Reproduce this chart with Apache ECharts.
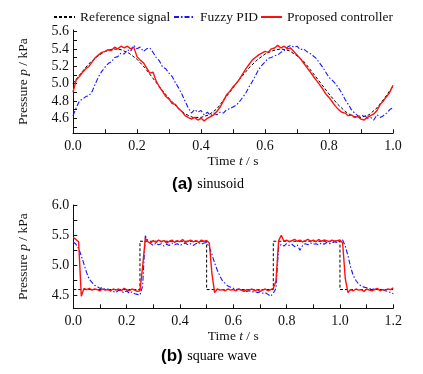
<!DOCTYPE html>
<html><head><meta charset="utf-8">
<script src="https://cdn.jsdelivr.net/npm/echarts@6/dist/echarts.min.js"></script>
<style>html,body{margin:0;padding:0;background:#fff}#c{width:423px;height:374px}</style>
</head><body><div id="c"></div>
<script>
// ---------- names ----------
const seriesNames = ['Reference signal', 'Fuzzy PID', 'Proposed controller'];

// ---------- (a) sinusoid ----------
const sinStep = 0.01;          // sample spacing of the measured curves (s)
const sinRefStep = 0.025;      // sample spacing of the reference curve (s)
const sinRef = [5.00,5.12,5.23,5.31,5.37,5.40,5.39,5.35,5.28,5.18,5.06,4.94,4.83,4.73,4.65,4.61,4.61,4.64,4.71,4.83,
  4.95,5.07,5.18,5.27,5.34,5.38,5.40,5.38,5.32,5.24,5.12,5.00,4.88,4.77,4.68,4.62,4.61,4.64,4.72,4.84,4.97];
const sinFuzzy = [4.63,4.72,4.80,4.82,4.85,4.86,4.91,5.00,5.08,5.14,5.19,5.23,5.25,5.30,5.31,5.35,5.34,5.39,5.37,5.44,
  5.40,5.42,5.37,5.40,5.41,5.36,5.30,5.26,5.19,5.17,5.12,5.08,5.01,4.95,4.88,4.80,4.72,4.66,4.70,4.67,
  4.69,4.64,4.67,4.63,4.66,4.64,4.67,4.66,4.70,4.71,4.73,4.75,4.79,4.84,4.89,4.96,5.02,5.09,5.16,5.21,
  5.25,5.29,5.30,5.32,5.33,5.36,5.38,5.42,5.44,5.42,5.43,5.39,5.40,5.37,5.35,5.32,5.29,5.24,5.19,5.13,
  5.07,5.04,5.00,4.95,4.89,4.82,4.76,4.70,4.66,4.63,4.62,4.64,4.60,4.61,4.58,4.64,4.61,4.63,4.66,4.70,4.72];
const sinProposed = [4.90,5.04,5.08,5.13,5.17,5.20,5.25,5.30,5.33,5.36,5.37,5.39,5.38,5.42,5.40,5.43,5.41,5.43,5.40,5.42,
  5.31,5.27,5.24,5.18,5.12,5.13,5.03,4.96,4.91,4.85,4.82,4.77,4.76,4.71,4.68,4.63,4.61,4.59,4.61,4.58,
  4.60,4.57,4.60,4.62,4.64,4.68,4.73,4.80,4.87,4.91,4.96,5.00,5.05,5.11,5.17,5.22,5.27,5.30,5.33,5.35,
  5.37,5.36,5.40,5.41,5.44,5.41,5.43,5.40,5.41,5.37,5.33,5.29,5.24,5.19,5.14,5.09,5.04,4.99,4.94,4.88,
  4.84,4.79,4.74,4.70,4.67,4.66,4.63,4.64,4.61,4.62,4.59,4.58,4.61,4.63,4.65,4.69,4.76,4.80,4.85,4.90,4.98];
const sinYLabels = [4.6,4.8,5.0,5.2,5.4,5.6];
const sinYTicks = [4.5,4.6,4.7,4.8,4.9,5.0,5.1,5.2,5.3,5.4,5.5,5.6];
const sinXLabels = [0,0.2,0.4,0.6,0.8,1.0];

// ---------- (b) square wave ----------
const sqStep = 0.01;
const sqRefT = [0,0.25,0.25,0.5,0.5,0.75,0.75,1.0,1.0,1.2];
const sqRefV = [4.6,4.6,5.4,5.4,4.6,4.6,5.4,5.4,4.6,4.6];
const sqFuzzy = [5.39,5.35,5.28,5.16,5.02,4.88,4.77,4.72,4.67,4.65,4.62,4.63,4.60,4.61,4.58,4.57,4.55,4.59,4.57,4.55,
  4.58,4.54,4.56,4.53,4.52,4.51,4.66,5.49,5.41,5.36,5.33,5.37,5.34,5.36,5.32,5.35,5.33,5.37,5.34,5.36,
  5.33,5.35,5.37,5.34,5.36,5.33,5.36,5.38,5.35,5.37,5.38,5.30,5.18,5.04,4.92,4.82,4.74,4.70,4.66,4.64,
  4.62,4.60,4.61,4.58,4.59,4.57,4.58,4.56,4.57,4.55,4.56,4.54,4.55,4.52,4.49,4.54,4.62,5.30,5.35,5.32,
  5.36,5.33,5.35,5.31,5.34,5.25,5.33,5.36,5.34,5.37,5.35,5.36,5.34,5.37,5.35,5.38,5.36,5.37,5.39,5.38,
  5.40,5.42,5.32,5.16,4.97,4.83,4.75,4.69,4.66,4.64,4.63,4.61,4.62,4.60,4.61,4.59,4.60,4.58,4.57,4.55,4.53];
const sqProposed = [5.46,5.43,5.39,4.49,4.62,4.60,4.62,4.59,4.61,4.60,4.58,4.61,4.59,4.60,4.58,4.61,4.59,4.61,4.58,4.62,
  4.60,4.58,4.61,4.59,4.57,4.58,4.98,5.45,5.39,5.37,5.41,5.38,5.42,5.39,5.41,5.37,5.40,5.42,5.38,5.41,
  5.39,5.43,5.38,5.40,5.42,5.39,5.41,5.38,5.42,5.40,5.41,5.37,4.86,4.55,4.61,4.59,4.60,4.58,4.61,4.59,
  4.60,4.58,4.61,4.59,4.57,4.60,4.59,4.61,4.58,4.60,4.57,4.59,4.61,4.58,4.60,4.62,4.74,5.41,5.50,5.40,
  5.42,5.39,5.41,5.43,5.40,5.42,5.39,5.41,5.43,5.40,5.42,5.39,5.43,5.40,5.42,5.41,5.39,5.42,5.40,5.41,
  5.42,5.37,4.78,4.55,4.60,4.58,4.61,4.59,4.60,4.57,4.61,4.59,4.58,4.60,4.62,4.58,4.60,4.59,4.61,4.60,4.63];
const sqYLabels = [4.5,5.0,5.5,6.0];
const sqYTicks = [4.5,4.75,5.0,5.25,5.5,5.75,6.0];
const sqXLabels = [0,0.2,0.4,0.6,0.8,1.0,1.2];

// ---------- helpers ----------
const pairs = (step, vals) => vals.map((v, i) => [+(i * step).toFixed(3), v]);
const pairs2 = (ts, vs) => ts.map((t, i) => [t, vs[i]]);

const SERIF = "'Liberation Serif','Times New Roman',serif";
const SANS = "'Liberation Sans',Arial,sans-serif";
const INK = '#111';
const axisCommon = {
  axisLine: {show: true, onZero: false, lineStyle: {color: INK, width: 1}},
  axisTick: {show: true, inside: true, length: 4, lineStyle: {color: INK, width: 1}},
  splitLine: {show: false},
  nameLocation: 'middle',
  nameTextStyle: {fontFamily: SERIF, fontSize: 13.5, color: INK,
    rich: {n: {fontFamily: SERIF, fontSize: 13.5, color: INK},
           i: {fontFamily: SERIF, fontSize: 13.5, fontStyle: 'italic', color: INK}}}
};
function xAx(gi, max, labels, interval) {
  return Object.assign({}, axisCommon, {
    type: 'value', gridIndex: gi, min: 0, max: max, interval: interval,
    name: '{n|Time }{i|t}{n| / s}', nameGap: 20,
    axisLabel: {customValues: labels, margin: 6, fontFamily: SERIF, fontSize: 14, color: INK,
      formatter: v => v.toFixed(1)}
  });
}
function yAx(gi, min, max, labels, ticks) {
  const a = Object.assign({}, axisCommon, {
    type: 'value', gridIndex: gi, min: min, max: max,
    name: '{n|Pressure }{i|p}{n| / kPa}', nameGap: 43,
    axisLabel: {customValues: labels, margin: 4, fontFamily: SERIF, fontSize: 14, color: INK,
      formatter: v => v.toFixed(1)}
  });
  a.axisTick = Object.assign({}, axisCommon.axisTick, {customValues: ticks});
  return a;
}
const refStyle = {color: '#000', width: 1, type: [3, 2]};
const fuzzyStyle = {color: '#1515ff', width: 1.1, type: [5, 2, 1.5, 2]};
const propStyle = {color: '#ff1010', width: 1.4, type: 'solid'};
function line(name, data, gi, style) {
  return {type: 'line', name: name, xAxisIndex: gi, yAxisIndex: gi, data: data,
    symbol: 'none', showSymbol: false, lineStyle: style, itemStyle: {color: style.color},
    silent: true, animation: false};
}
function legend(name, left) {
  return {data: [name], left: left, top: 10, itemWidth: 21, itemHeight: 14, padding: 0,
    itemStyle: {opacity: 0, borderWidth: 0},
    textStyle: {fontFamily: SERIF, fontSize: 13.5, color: INK}, selectedMode: false};
}
const subRich = {
  b: {fontFamily: SANS, fontWeight: 'bold', fontSize: 17, color: '#000'},
  s: {fontFamily: SERIF, fontWeight: 'normal', fontSize: 14, color: '#000'}
};

const chart = echarts.init(document.getElementById('c'), null, {renderer: 'canvas'});
chart.setOption({
  backgroundColor: '#fff',
  animation: false,
  title: [
    {text: '{b|(a)} {s|sinusoid}', left: 167, top: 170,
      textStyle: {fontWeight: 'normal', fontFamily: SERIF, rich: subRich}},
    {text: '{b|(b)} {s|square wave}', left: 156, top: 342,
      textStyle: {fontWeight: 'normal', fontFamily: SERIF, rich: subRich}}
  ],
  legend: [legend(seriesNames[0], 53), legend(seriesNames[1], 173), legend(seriesNames[2], 260)],
  grid: [
    {left: 73, top: 30, width: 320, height: 103.3},
    {left: 73.3, top: 205, width: 320, height: 103.3}
  ],
  xAxis: [xAx(0, 1.0, sinXLabels, 0.1), xAx(1, 1.2, sqXLabels, 0.1)],
  yAxis: [yAx(0, 4.427, 5.617, sinYLabels, sinYTicks), yAx(1, 4.29, 6.0, sqYLabels, sqYTicks)],
  series: [
    line(seriesNames[0], pairs(sinRefStep, sinRef), 0, refStyle),
    line(seriesNames[1], pairs(sinStep, sinFuzzy), 0, fuzzyStyle),
    line(seriesNames[2], pairs(sinStep, sinProposed), 0, propStyle),
    line(seriesNames[0], pairs2(sqRefT, sqRefV), 1, refStyle),
    line(seriesNames[1], pairs(sqStep, sqFuzzy), 1, fuzzyStyle),
    line(seriesNames[2], pairs(sqStep, sqProposed), 1, propStyle)
  ]
});
</script></body></html>
